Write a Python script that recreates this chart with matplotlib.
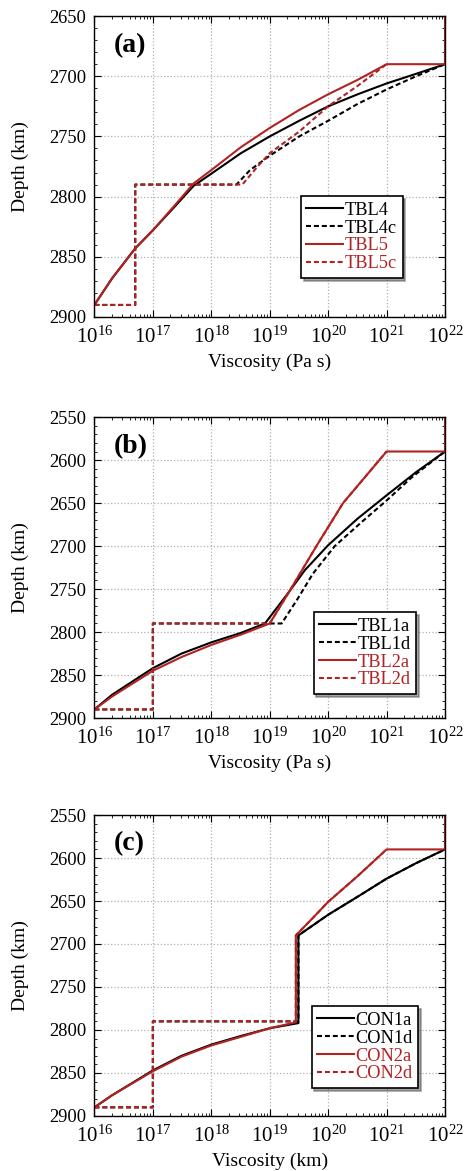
import matplotlib
matplotlib.use("Agg")
import matplotlib.pyplot as plt
from matplotlib.ticker import LogLocator, MultipleLocator, NullFormatter
import numpy as np

plt.rcParams["font.family"] = ["Liberation Serif", "DejaVu Serif"]
plt.rcParams["mathtext.fontset"] = "stix"

RED = "#b22222"

# panel (a) -- viscosity (Pa s) vs depth (km)
tbl4_x = [1e16, 2e16, 5e16, 1e17, 2.3e17, 5e17, 1e18, 3.2e18, 1e19, 3.2e19,
          1e20, 3.2e20, 1e21, 3.2e21, 1e22]
tbl4_y = [2890, 2868, 2843, 2828, 2809, 2791, 2781, 2764, 2750, 2737,
          2725, 2715, 2706, 2698, 2690]
tbl4c_x = [1e16, 5e16, 5e16, 2.7e18, 4.6e18, 1e19, 3.2e19, 1e20, 3.2e20, 1e21,
           3.2e21, 1e22]
tbl4c_y = [2890, 2890, 2790, 2790, 2778, 2766, 2750, 2737, 2723, 2711,
           2700, 2690]
tbl5_x = [1e16, 2e16, 5e16, 1e17, 2.3e17, 5e17, 1e18, 3.2e18, 1e19, 3.2e19,
          1e20, 3.2e20, 1e21, 1e22, 1e22]
tbl5_y = [2890, 2868, 2843, 2828, 2808, 2789, 2778, 2759, 2743, 2728,
          2715, 2703, 2690, 2690, 2650]
tbl5c_x = [1e16, 5e16, 5e16, 3.4e18, 6.2e18, 1e19, 3.2e19, 1e20, 3.2e20, 1e21]
tbl5c_y = [2890, 2890, 2790, 2790, 2775, 2764, 2746, 2725, 2708, 2690]

# panel (b)
tbl1a_x = [1e16, 2e16, 1e17, 3.1e17, 1e18, 3.2e18, 8.3e18, 2.1e19, 4e19,
           1e20, 3.2e20, 1e21, 3.2e21, 1e22]
tbl1a_y = [2890, 2873, 2842, 2825, 2812, 2801, 2790, 2754, 2728,
           2699, 2668, 2641, 2614, 2590]
tbl1d_x = [1e16, 1e17, 1e17, 1.6e19, 2.9e19, 5.5e19, 1.3e20, 3.9e20, 1e21,
           2.7e21, 1e22]
tbl1d_y = [2890, 2890, 2790, 2790, 2763, 2732, 2700, 2671, 2647,
           2620, 2590]
tbl2a_x = [1e16, 2e16, 1e17, 3.1e17, 1e18, 3.2e18, 1e19, 2.2e19, 6.3e19,
           1.8e20, 1e21, 1e22, 1e22]
tbl2a_y = [2890, 2875, 2845, 2829, 2815, 2803, 2790, 2752, 2700,
           2650, 2590, 2590, 2550]
tbl2d_x = [1e16, 1e17, 1e17, 1e19, 2.2e19, 6.3e19, 1.8e20, 1e21]
tbl2d_y = [2890, 2890, 2790, 2790, 2752, 2700, 2650, 2590]

# panel (c)
con1a_x = [1e16, 2e16, 1e17, 3.1e17, 1e18, 3.2e18, 1e19, 3.1e19, 3.1e19,
           1e20, 3.2e20, 1e21, 3.2e21, 1e22]
con1a_y = [2890, 2876, 2847, 2830, 2817, 2807, 2798, 2792, 2690,
           2666, 2645, 2624, 2606, 2590]
con1d_x = [1e16, 1e17, 1e17, 3.1e19, 3.1e19, 1e20, 3.2e20, 1e21,
           3.2e21, 1e22]
con1d_y = [2890, 2890, 2790, 2790, 2690, 2666, 2645, 2624,
           2606, 2590]
con2a_x = [1e16, 2e16, 1e17, 3.1e17, 1e18, 3.2e18, 1e19, 2.8e19, 2.8e19,
           5.6e19, 1e20, 3.2e20, 1e21, 1e22, 1e22]
con2a_y = [2890, 2876, 2848, 2831, 2818, 2808, 2798, 2791, 2690,
           2669, 2651, 2621, 2590, 2590, 2550]
con2d_x = [1e16, 1e17, 1e17, 2.8e19, 2.8e19, 5.6e19, 1e20, 3.2e20, 1e21]
con2d_y = [2890, 2890, 2790, 2790, 2690, 2669, 2651, 2621, 2590]

panels = [
    ("(a)", 2650, "Viscosity (Pa s)",
     [(tbl4_x, tbl4_y, "TBL4", "k", "-"), (tbl4c_x, tbl4c_y, "TBL4c", "k", "--"),
      (tbl5_x, tbl5_y, "TBL5", RED, "-"), (tbl5c_x, tbl5c_y, "TBL5c", RED, "--")],
     (0.879, 0.13)),
    ("(b)", 2550, "Viscosity (Pa s)",
     [(tbl1a_x, tbl1a_y, "TBL1a", "k", "-"), (tbl1d_x, tbl1d_y, "TBL1d", "k", "--"),
      (tbl2a_x, tbl2a_y, "TBL2a", RED, "-"), (tbl2d_x, tbl2d_y, "TBL2d", RED, "--")],
     (0.918, 0.08)),
    ("(c)", 2550, "Viscosity (km)",
     [(con1a_x, con1a_y, "CON1a", "k", "-"), (con1d_x, con1d_y, "CON1d", "k", "--"),
      (con2a_x, con2a_y, "CON2a", RED, "-"), (con2d_x, con2d_y, "CON2d", RED, "--")],
     (0.924, 0.093)),
]

fig = plt.figure(figsize=(4.65, 11.71), dpi=100)
bottoms = [0.7293, 0.3868, 0.047]

for (tag, ytop, xlab, series, leg_pos), bot in zip(panels, bottoms):
    ax = fig.add_axes([0.203, bot, 0.754, 0.257])
    for x, y, lab, col, ls in series:
        ax.plot(x, y, color=col, linestyle=ls, lw=1.5, label=lab,
                dashes=(2.4, 1.4) if ls == "--" else (None, None))
    ax.set_xscale("log")
    ax.set_xlim(1e16, 1e22)
    ax.set_ylim(2900, ytop)
    ax.xaxis.set_major_locator(LogLocator(base=10, numticks=10))
    ax.xaxis.set_minor_locator(LogLocator(base=10, subs=np.arange(2, 10), numticks=10))
    ax.xaxis.set_minor_formatter(NullFormatter())
    ax.yaxis.set_major_locator(MultipleLocator(50))
    ax.yaxis.set_minor_locator(MultipleLocator(10))
    ax.tick_params(which="both", direction="in", top=True, right=True)
    ax.tick_params(which="major", length=5, width=0.8)
    ax.tick_params(which="minor", length=2.5, width=0.6)
    ax.tick_params(axis="y", labelsize=13.3, pad=6)
    ax.tick_params(axis="x", labelsize=15, pad=7)
    for sp in ax.spines.values():
        sp.set_linewidth(1.0)
    ax.grid(True, which="major", color="#b0b0b0", linestyle=":", lw=0.9)
    ax.set_xlabel(xlab, fontsize=14)
    ax.set_ylabel("Depth (km)", fontsize=14)
    ax.xaxis.set_label_coords(0.5, -0.15)
    ax.yaxis.set_label_coords(-0.21, 0.5)
    ax.xaxis.label.set_va("center")
    ax.yaxis.label.set_va("center")
    ax.text(0.054, 0.945, tag, transform=ax.transAxes, fontsize=20, fontweight="bold",
            va="top", ha="left")
    leg = ax.legend(loc="lower right", bbox_to_anchor=leg_pos, fontsize=13.2,
                    frameon=True, fancybox=False, shadow=True, framealpha=1,
                    edgecolor="k", handlelength=2.0, handletextpad=0.1,
                    borderpad=0.3, labelspacing=0.05, labelcolor="linecolor",
                    borderaxespad=0)
    leg.get_frame().set_linewidth(1.2)

fig.savefig("out.png", dpi=100)
